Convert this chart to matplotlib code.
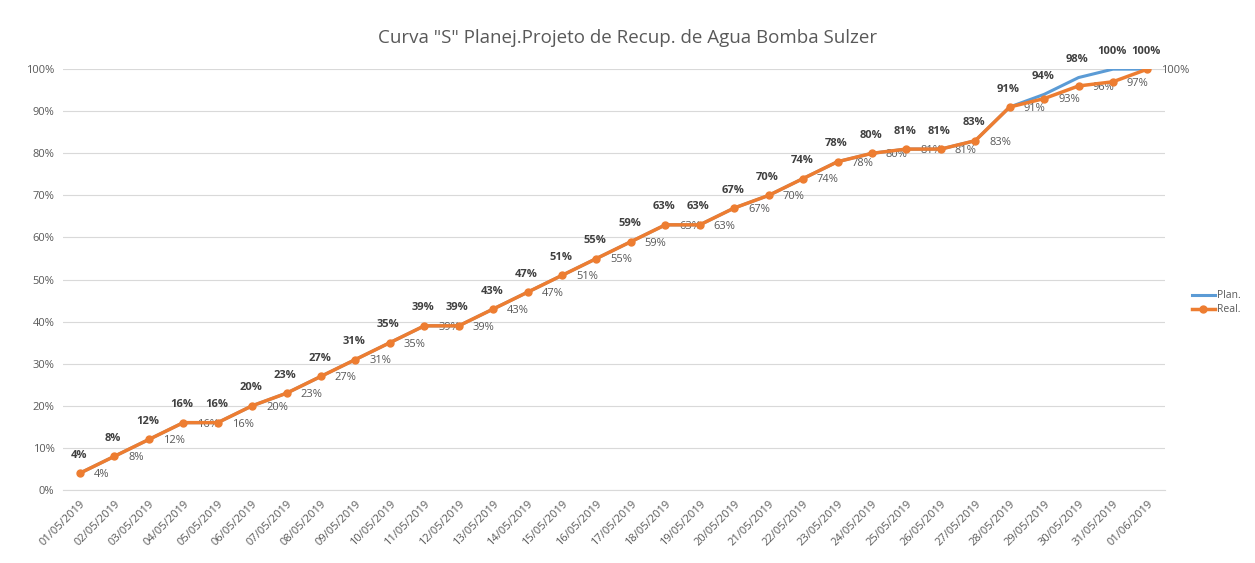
import matplotlib
matplotlib.use("Agg")
import matplotlib.pyplot as plt
from matplotlib.ticker import PercentFormatter

dates = ["01/05/2019", "02/05/2019", "03/05/2019", "04/05/2019", "05/05/2019", "06/05/2019",
         "07/05/2019", "08/05/2019", "09/05/2019", "10/05/2019", "11/05/2019", "12/05/2019",
         "13/05/2019", "14/05/2019", "15/05/2019", "16/05/2019", "17/05/2019", "18/05/2019",
         "19/05/2019", "20/05/2019", "21/05/2019", "22/05/2019", "23/05/2019", "24/05/2019",
         "25/05/2019", "26/05/2019", "27/05/2019", "28/05/2019", "29/05/2019", "30/05/2019",
         "31/05/2019", "01/06/2019"]
plan = [4, 8, 12, 16, 16, 20, 23, 27, 31, 35, 39, 39, 43, 47, 51, 55, 59, 63, 63, 67, 70,
        74, 78, 80, 81, 81, 83, 91, 94, 98, 100, 100]
real = [4, 8, 12, 16, 16, 20, 23, 27, 31, 35, 39, 39, 43, 47, 51, 55, 59, 63, 63, 67, 70,
        74, 78, 80, 81, 81, 83, 91, 93, 96, 97, 100]
title = 'Curva "S" Planej.Projeto de Recup. de Agua Bomba Sulzer'

BLUE = "#5B9BD5"
ORANGE = "#ED7D31"
GRAY = "#595959"

plt.rcParams['font.family'] = ['Open Sans', 'DejaVu Sans']

fig = plt.figure(figsize=(12.55, 5.63), dpi=100)
ax = fig.add_axes([0.05, 0.1297, 0.878, 0.7475])

x = list(range(len(dates)))
ax.plot(x, plan, color=BLUE, lw=2.2, label="Plan.", zorder=3)
ax.plot(x, real, color=ORANGE, lw=2.5, marker="o", ms=5, label="Real.", zorder=4)

for i, v in enumerate(plan):
    ax.annotate(f"{v}%", (i, v), xytext=(-1, 9), textcoords="offset points",
                ha="center", va="bottom", fontsize=8, fontweight="bold", color="#404040")
for i, v in enumerate(real):
    ax.annotate(f"{v}%", (i, v), xytext=(10, -1), textcoords="offset points",
                ha="left", va="center", fontsize=8, color=GRAY)

ax.set_xlim(-0.5, len(dates) - 0.5)
ax.set_ylim(0, 100)
ax.set_yticks(range(0, 101, 10))
ax.yaxis.set_major_formatter(PercentFormatter(decimals=0))
ax.set_xticks(x)
ax.set_xticklabels(dates, rotation=45, ha="right", rotation_mode="anchor")
ax.tick_params(axis="both", length=0, labelsize=8, colors=GRAY)
ax.tick_params(axis="y", pad=6)
ax.tick_params(axis="x", pad=6)
ax.grid(axis="y", color="#D9D9D9", lw=0.8)
ax.set_axisbelow(True)
for s in ["top", "right", "left"]:
    ax.spines[s].set_visible(False)
ax.spines["bottom"].set_color("#D9D9D9")
ax.spines["bottom"].set_linewidth(0.8)

fig.text(0.5, 0.932, title, ha="center", va="center", fontsize=13.5, color=GRAY)

leg = fig.legend(loc="center left", bbox_to_anchor=(0.942, 0.462), frameon=False,
                 fontsize=7.5, handlelength=2.2, handletextpad=0.2, labelspacing=0.3)
for t in leg.get_texts():
    t.set_color(GRAY)

fig.savefig("out.png", dpi=100, facecolor="white")
